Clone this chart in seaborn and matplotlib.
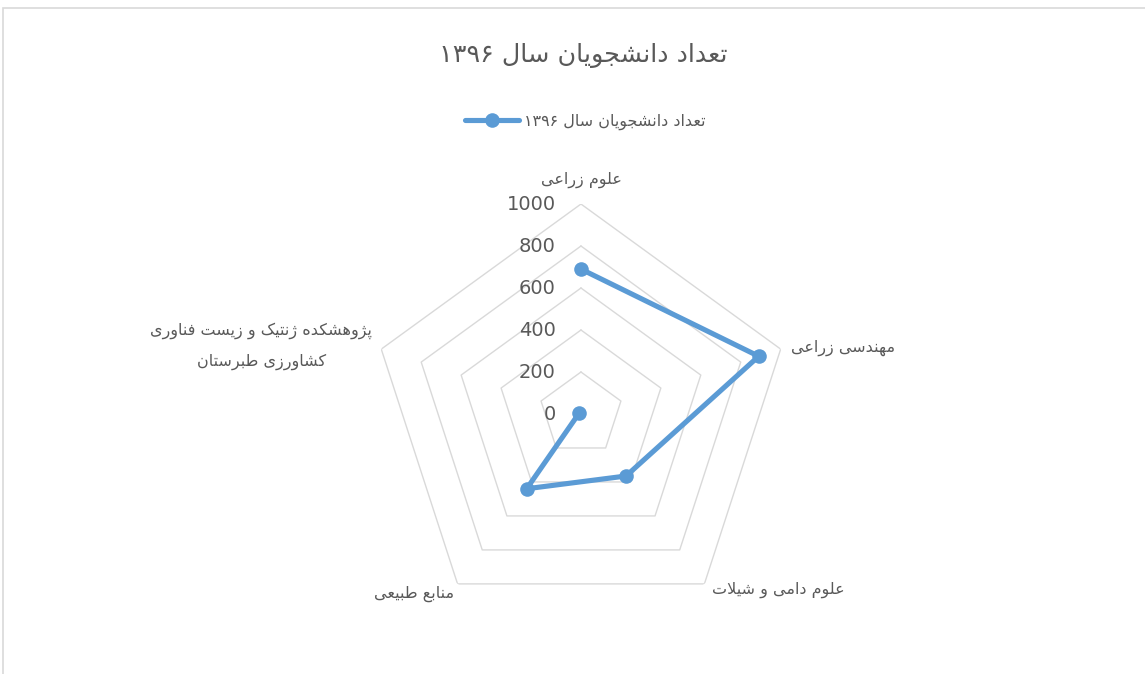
import numpy as np
import pandas as pd
import seaborn as sns
import matplotlib
matplotlib.use("Agg")
import matplotlib.pyplot as plt
from matplotlib.patches import Rectangle
from matplotlib.transforms import offset_copy

categories = [
    "علوم زراعی",
    "مهندسی زراعی",
    "علوم دامی و شیلات",
    "منابع طبیعی",
    "پژوهشکده ژنتیک و زیست فناوری\nکشاورزی طبرستان",
]
students = [690, 890, 365, 440, 10]
series_name = "تعداد دانشجویان سال ۱۳۹۶"
title = "تعداد دانشجویان سال ۱۳۹۶"
rings = [0, 200, 400, 600, 800, 1000]

# contextual forms (isolated, final, initial, medial); 2-tuple = joins only to the right
FORMS = {
    'ا': (0xFE8D, 0xFE8E), 'ب': (0xFE8F, 0xFE90, 0xFE91, 0xFE92),
    'پ': (0xFB56, 0xFB57, 0xFB58, 0xFB59), 'ت': (0xFE95, 0xFE96, 0xFE97, 0xFE98),
    'ج': (0xFE9D, 0xFE9E, 0xFE9F, 0xFEA0), 'د': (0xFEA9, 0xFEAA),
    'ر': (0xFEAD, 0xFEAE), 'ز': (0xFEAF, 0xFEB0), 'ژ': (0xFB8A, 0xFB8B),
    'س': (0xFEB1, 0xFEB2, 0xFEB3, 0xFEB4), 'ش': (0xFEB5, 0xFEB6, 0xFEB7, 0xFEB8),
    'ط': (0xFEC1, 0xFEC2, 0xFEC3, 0xFEC4), 'ع': (0xFEC9, 0xFECA, 0xFECB, 0xFECC),
    'ف': (0xFED1, 0xFED2, 0xFED3, 0xFED4), 'ک': (0xFB8E, 0xFB8F, 0xFB90, 0xFB91),
    'ل': (0xFEDD, 0xFEDE, 0xFEDF, 0xFEE0), 'م': (0xFEE1, 0xFEE2, 0xFEE3, 0xFEE4),
    'ن': (0xFEE5, 0xFEE6, 0xFEE7, 0xFEE8), 'ه': (0xFEE9, 0xFEEA, 0xFEEB, 0xFEEC),
    'و': (0xFEED, 0xFEEE), 'ی': (0xFBFC, 0xFBFD, 0xFBFE, 0xFBFF),
}
DIGITS = "۰۱۲۳۴۵۶۷۸۹"


def shape_word(w):
    out = []
    i = 0
    while i < len(w):
        c = w[i]
        prev = w[i - 1] if i > 0 else None
        link_prev = prev in FORMS and len(FORMS[prev]) == 4
        if c == 'ل' and i + 1 < len(w) and w[i + 1] == 'ا':
            out.append(chr(0xFEFC if link_prev else 0xFEFB))
            i += 2
            continue
        if c not in FORMS:
            out.append(c)
            i += 1
            continue
        f = FORMS[c]
        nxt = w[i + 1] if i + 1 < len(w) else None
        link_next = len(f) == 4 and nxt in FORMS
        if link_prev and link_next:
            out.append(chr(f[3]))
        elif link_prev:
            out.append(chr(f[1]))
        elif link_next:
            out.append(chr(f[2]))
        else:
            out.append(chr(f[0]))
        i += 1
    return "".join(reversed(out))


def fa(text):
    lines = []
    for line in text.split("\n"):
        words = []
        for w in reversed(line.split(" ")):
            words.append(w if all(ch in DIGITS for ch in w) else shape_word(w))
        lines.append(" ".join(words))
    return "\n".join(lines)


sns.set_theme(style="white")
plt.rcParams['font.family'] = ['DejaVu Sans']
grey = "#595959"
blue = "#5B9BD5"

n = len(categories)
theta = np.arange(n) * 2 * np.pi / n
df = pd.DataFrame({"theta": np.append(theta, theta[0]),
                   "value": students + students[:1]})

fig = plt.figure(figsize=(11.45, 6.74), dpi=100)
ax = fig.add_axes([0.324, 0.0742, 0.3668, 0.6231], projection="polar")
ax.set_theta_zero_location("N")
ax.set_theta_direction(-1)
ax.set_ylim(0, 1000)
ax.grid(False)
ax.spines["polar"].set_visible(False)
ax.set_xticks([])
ax.set_yticks([])

# pentagon rings
closed = np.append(theta, theta[0])
for r in rings[1:]:
    ax.plot(closed, [r] * len(closed), color="#D9D9D9", lw=1.0, zorder=1)

sns.lineplot(data=df, x="theta", y="value", ax=ax, sort=False, color=blue,
             lw=3.7, marker="o", markersize=10.5, markeredgewidth=0,
             label=fa(series_name), zorder=3)
ax.set_xlabel("")
ax.set_ylabel("")
ax.legend_.remove()

# radial value labels
tr = offset_copy(ax.transData, fig=fig, x=-25, y=0, units="dots")
for r in rings:
    ax.text(0, r, str(r), transform=tr, ha="right", va="center",
            fontsize=14, color=grey)

# category labels
placements = [((0, 16), "center", "bottom"), ((10, 1), "left", "center"),
              ((8, -6), "left", "center"), ((-3, -10), "right", "center"),
              ((-9, 3), "right", "center")]
for t, lab, (off, ha, va) in zip(theta, categories, placements):
    trl = offset_copy(ax.transData, fig=fig, x=off[0], y=off[1], units="dots")
    ax.text(t, 1000, fa(lab), transform=trl, ha=ha, va=va,
            multialignment="center", fontsize=11.5, color=grey,
            linespacing=2.25)

fig.text(0.509, 1 - 55 / 674, fa(title), ha="center", va="center",
         fontsize=18.3, color=grey)
fig.legend(loc="center", bbox_to_anchor=(0.511, 1 - 122 / 674), frameon=False,
           fontsize=11.5, handlelength=3.4, handletextpad=0.3,
           labelcolor=grey)

fig.add_artist(Rectangle((3 / 1145, -0.1), 1.2, 0.1 + 1 - 8.5 / 674,
                         transform=fig.transFigure, fill=False,
                         edgecolor="#D9D9D9", lw=1.2, clip_on=False))

fig.savefig("out.png", dpi=100)
